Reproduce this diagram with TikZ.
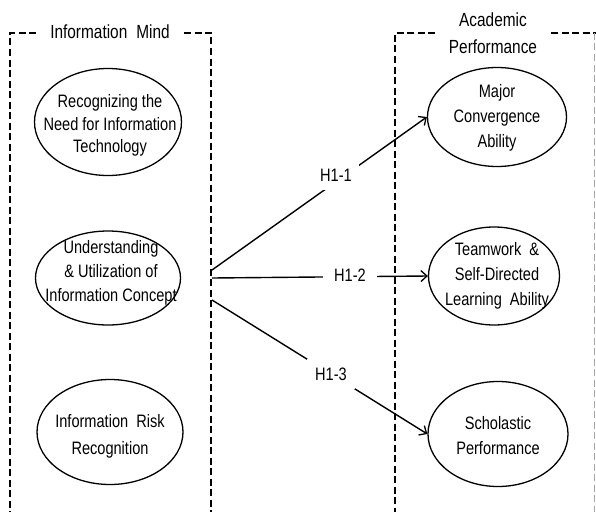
\documentclass[tikz,border=0pt]{standalone}
\usepackage{fontspec}
\setmainfont{Liberation Sans}[FakeStretch=0.81]
\usetikzlibrary{shapes.geometric,arrows.meta}
\begin{document}
\begin{tikzpicture}[x=1pt,y=-1pt,
  oval/.style={draw, ellipse, line width=1.3pt, inner sep=0pt},
  otext/.style={align=center, inner sep=0pt},
  box/.style={line width=1.8pt, dash pattern=on 7pt off 3.5pt},
  conn/.style={line width=1.4pt, -{Straight Barb[length=6pt,width=11pt,line width=1.3pt]}},
  hlab/.style={fill=white, font=\fontsize{18}{20}\selectfont},
  ttl/.style={align=center, font=\fontsize{19}{27}\selectfont}
]
\useasboundingbox (0,0) rectangle (596,511);

% dashed group boxes
\draw[box] (36,33) -- (10,33) -- (10,512);
\draw[box] (184,33) -- (211,33) -- (211,512);
\draw[box] (435,33) -- (395,33) -- (395,512);
\draw[box] (551,33) -- (596,33);
\draw[box, gray!70, line width=1.3pt] (594.5,33) -- (594.5,512);

\node[ttl] (tl) at (110,32) {Information\hspace{9pt}Mind};
\node[ttl] (tr) at (493,33.5) {Academic\\Performance};

% left ellipses
\node[oval, minimum width=147pt, minimum height=107pt] (e1) at (108,122) {};
\node[oval, minimum width=145pt, minimum height=94pt] (e2) at (108,278) {};
\node[oval, minimum width=146pt, minimum height=105pt] (e3) at (110,432) {};
% right ellipses
\node[oval, minimum width=139pt, minimum height=99pt] (f1) at (497,117) {};
\node[oval, minimum width=131pt, minimum height=98pt] (f2) at (494,276) {};
\node[oval, minimum width=140pt, minimum height=105pt] (f3) at (498,434) {};

% texts
\node[otext, font=\fontsize{18}{22.5}\selectfont] (t1) at (110,125.5) {Recognizing the\\Need for Information\\Technology};
\node[otext, font=\fontsize{18}{24}\selectfont] (t2) at (111,273) {Understanding\\\&~Utilization of\\Information Concept};
\node[otext, font=\fontsize{18}{27}\selectfont] (t3) at (110,436.5) {Information\ \ Risk\\Recognition};
\node[otext, font=\fontsize{18}{25}\selectfont] (u1) at (497,118) {Major\\Convergence\\Ability};
\node[otext, font=\fontsize{18}{25}\selectfont] (u2) at (497,276) {Teamwork\ \ \&\\Self-Directed\\Learning\ \ Ability};
\node[otext, font=\fontsize{18}{25}\selectfont] (u3) at (498,435.5) {Scholastic\\Performance};

% connectors
\coordinate (s1) at (212,270);
\coordinate (s2) at (212,278);
\coordinate (s3) at (212,300);
\draw[conn] (s1) -- (f1.west);
\draw[conn] (s2) -- (f2.west);
\draw[conn] (s3) -- (f3.west);

\node[hlab, inner xsep=7pt, inner ysep=9pt] (l1) at (336,175) {H1-1};
\node[hlab, inner xsep=11pt, inner ysep=4pt] (l2) at (350,275) {H1-2};
\node[hlab, inner xsep=8pt, inner ysep=9pt] (l3) at (331,374) {H1-3};
\end{tikzpicture}
\end{document}
